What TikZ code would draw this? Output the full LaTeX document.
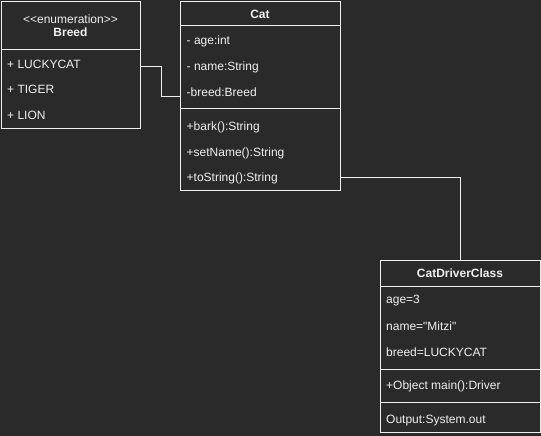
\documentclass[tikz,border=0pt]{standalone}
\usepackage{fontspec}
\setmainfont{Liberation Sans}[Ligatures=TeXOff]
\definecolor{bg}{HTML}{2A2A2A}
\definecolor{fg}{HTML}{F0F0F0}
\begin{document}
\begin{tikzpicture}[x=1pt,y=-1pt,
  box/.style={draw=fg, fill=bg, line width=1pt, anchor=north west, inner sep=0pt},
  sep/.style={draw=fg, line width=1pt},
  row/.style={text=fg, anchor=west, inner sep=0pt, font=\fontsize{12}{14}\selectfont, text height=8.6pt, text depth=0pt},
  title/.style={text=fg, anchor=center, inner sep=0pt, font=\fontsize{12}{14}\selectfont\bfseries, text height=8.6pt, text depth=0pt},
  conn/.style={draw=fg, line width=1pt}]
\fill[bg] (0,0) rectangle (541,436);
\useasboundingbox (0,0) rectangle (541,436);
% Breed
\node[box, minimum width=139pt, minimum height=127pt] (breed) at (1,1) {};
\draw[sep] (1,50) -- (140,50);
\node[text=fg, inner sep=0pt, font=\fontsize{12}{14}\selectfont, text height=8.6pt, text depth=0pt] (enum) at (70.5,19) {<<enumeration>>};
\node[title] (breedt) at (70.5,32.5) {Breed};
\node[row] (lucky) at (7,63.8) {+ LUCKYCAT};
\node[row] (tiger) at (7,89.3) {+ TIGER};
\node[row] (lion) at (7,115.3) {+ LION};
% Cat
\node[box, minimum width=160pt, minimum height=189pt] (cat) at (180,1) {};
\draw[sep] (180,26) -- (340,26);
\draw[sep] (180,108) -- (340,108);
\node[title] (catt) at (260,14) {Cat};
\node[row] (age) at (186.5,40) {- age:int};
\node[row] (name) at (186.5,66) {- name:String};
\node[row] (brd) at (186.5,91.7) {-breed:Breed};
\node[row] (bark) at (186.5,126) {+bark():String};
\node[row] (setn) at (186.5,151.7) {+setName():String};
\node[row] (tostr) at (186.5,177.3) {+toString():String};
% CatDriverClass
\node[box, minimum width=160pt, minimum height=172pt] (driver) at (380,260) {};
\draw[sep] (380,286) -- (540,286);
\draw[sep] (380,369) -- (540,369);
\draw[sep] (380,402) -- (540,402);
\node[title] (drivert) at (460,273.5) {CatDriverClass};
\node[row] (dage) at (386,299.3) {age=3};
\node[row] (dname) at (386,325.7) {name="Mitzi"};
\node[row] (dbreed) at (386,351.7) {breed=LUCKYCAT};
\node[row] (dmain) at (386,385) {+Object main():Driver};
\node[row] (dout) at (386,419) {Output:System.out};
% connectors
\draw[conn] ([yshift=-2pt]breed.east) -- ++(20.5,0) |- (cat.west);
\draw[conn] (cat.east |- tostr) -| (driver.north);
\end{tikzpicture}
\end{document}
